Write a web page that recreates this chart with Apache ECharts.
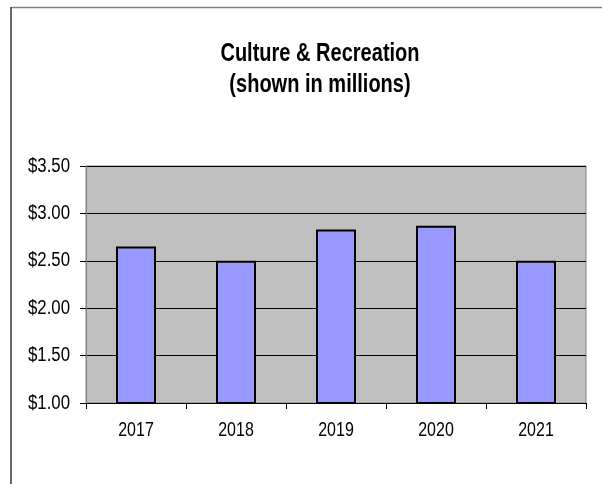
<!DOCTYPE html>
<html>
<head>
<meta charset="utf-8">
<script src="https://cdn.jsdelivr.net/npm/echarts@6/dist/echarts.min.js"></script>
<style>
  html, body { margin: 0; padding: 0; background: #ffffff; }
  #chart { width: 602px; height: 484px; }
</style>
</head>
<body>
<div id="chart"></div>
<script>
// Spending per year, in millions of dollars
const years = ['2017', '2018', '2019', '2020', '2021'];
const spending = [2.65, 2.50, 2.83, 2.87, 2.50];
const yTickValues = [1.0, 1.5, 2.0, 2.5, 3.0, 3.5];
const titleLines = ['Culture & Recreation', '(shown in millions)'];

const FONT = '"Liberation Sans", Arial, sans-serif';

const chart = echarts.init(document.getElementById('chart'), null, { renderer: 'canvas' });

const frame = [
  { type: 'line', shape: { x1: 11, y1: 7.5, x2: 610, y2: 7.5 }, style: { stroke: '#808080', lineWidth: 1.5 } },
  { type: 'line', shape: { x1: 11, y1: 7, x2: 11, y2: 490 }, style: { stroke: '#333333', lineWidth: 1.5 } }
];

// condensed lettering, drawn by squeezing regular glyphs horizontally
const titleTexts = titleLines.map((line, i) => ({
  type: 'text',
  x: 320,
  y: 54 + i * 31,
  scaleX: 0.77,
  style: {
    text: line,
    align: 'center',
    verticalAlign: 'middle',
    font: 'bold 26px ' + FONT,
    fill: '#000000'
  }
}));

chart.setOption({
  backgroundColor: '#ffffff',
  animation: false,
  grid: {
    left: 86,
    top: 166,
    width: 500,
    height: 237,
    show: true,
    backgroundColor: '#c0c0c0',
    borderColor: '#808080',
    borderWidth: 1
  },
  xAxis: {
    type: 'category',
    data: years,
    axisLine: { show: true, lineStyle: { color: '#000000', width: 1 } },
    axisTick: { show: true, length: 6, lineStyle: { color: '#000000' } },
    axisLabel: { show: false }
  },
  yAxis: {
    type: 'value',
    min: yTickValues[0],
    max: yTickValues[yTickValues.length - 1],
    interval: yTickValues[1] - yTickValues[0],
    axisLine: { show: true, lineStyle: { color: '#808080', width: 1 } },
    axisTick: { show: true, length: 6, lineStyle: { color: '#000000' } },
    splitLine: { show: true, lineStyle: { color: '#000000', width: 1 } },
    axisLabel: { show: false }
  },
  series: [{
    type: 'bar',
    data: spending,
    barWidth: 40,
    itemStyle: {
      color: '#9999ff',
      borderColor: '#000000',
      borderWidth: 2
    }
  }]
});

// Axis labels placed through the chart's own coordinate conversion
const labelFont = '20px ' + FONT;
const xLabels = years.map((yr, i) => {
  const p = chart.convertToPixel({ gridIndex: 0 }, [i, yTickValues[0]]);
  return {
    type: 'text', x: p[0], y: p[1] + 27, scaleX: 0.8,
    style: { text: yr, align: 'center', verticalAlign: 'middle', font: labelFont, fill: '#000000' }
  };
});
const yLabels = yTickValues.map(v => {
  const p = chart.convertToPixel({ gridIndex: 0 }, [0, v]);
  return {
    type: 'text', x: 70, y: p[1], scaleX: 0.84,
    style: { text: '$' + v.toFixed(2), align: 'right', verticalAlign: 'middle', font: labelFont, fill: '#000000' }
  };
});

chart.setOption({
  graphic: frame.concat(titleTexts, xLabels, yLabels)
});
</script>
</body>
</html>
